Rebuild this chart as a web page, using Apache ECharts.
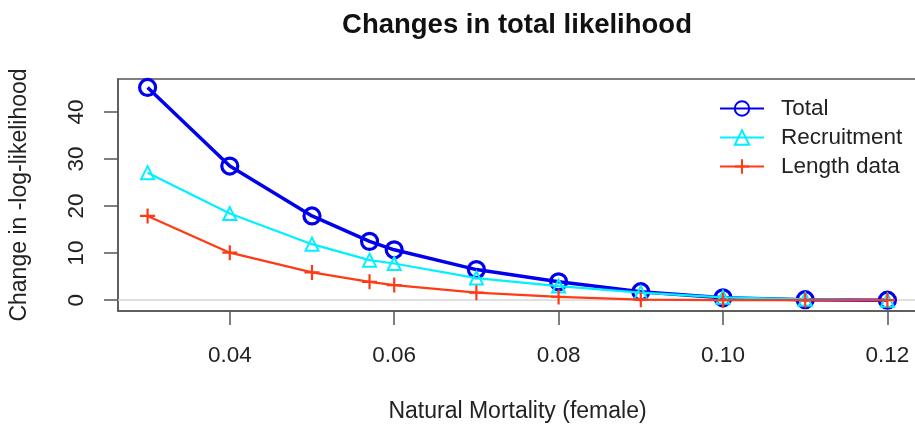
<!DOCTYPE html>
<html>
<head>
<meta charset="utf-8">
<script src="https://cdn.jsdelivr.net/npm/echarts@6/dist/echarts.min.js"></script>
<style>
  html, body { margin: 0; padding: 0; background: #fff; }
  #chart { width: 915px; height: 428px; }
</style>
</head>
<body>
<div id="chart"></div>
<script>
// Natural mortality values (female) at which the model was profiled
const mortality = [0.03, 0.04, 0.05, 0.057, 0.06, 0.07, 0.08, 0.09, 0.10, 0.11, 0.12];

// Change in negative log-likelihood per component
const totalLike       = [45.2, 28.5, 17.9, 12.5, 10.7, 6.5, 3.9, 1.8, 0.5, 0.1, 0.0];
const recruitmentLike = [27.1, 18.4, 11.9, 8.5, 7.8, 4.7, 3.0, 1.6, 0.6, 0.2, 0.0];
const lengthLike      = [17.9, 10.1, 5.9, 3.9, 3.2, 1.6, 0.7, 0.1, 0.0, 0.0, 0.0];

// Tick labels
const xTicks = [0.04, 0.06, 0.08, 0.10, 0.12];
const yTicks = [0, 10, 20, 30, 40];

const FONT = '"Liberation Sans", Arial, Helvetica, sans-serif';
const AXIS_COLOR = '#555';
const pairs = ys => mortality.map((m, i) => [m, ys[i]]);

const chart = echarts.init(document.getElementById('chart'), null, { renderer: 'canvas' });

chart.setOption({
  animation: false,
  backgroundColor: '#ffffff',
  textStyle: { fontFamily: FONT },
  title: {
    text: 'Changes in total likelihood',
    left: 512, top: 6, textAlign: 'center',
    textStyle: { fontFamily: FONT, fontSize: 27.5, fontWeight: 'bold', color: '#111' }
  },
  grid: {
    left: 118, top: 79, width: 799, height: 232,
    outerBoundsMode: 'none', containLabel: false,
    show: true, borderColor: AXIS_COLOR, borderWidth: 1.5, backgroundColor: 'transparent'
  },
  legend: {
    left: 714, top: 92, orient: 'vertical', itemGap: 6,
    itemWidth: 44, itemHeight: 18,
    textStyle: { fontFamily: FONT, fontSize: 22.5, color: '#222', padding: [0, 0, 0, 12] },
    data: ['Total', 'Recruitment', 'Length data']
  },
  xAxis: {
    type: 'value', min: 0.0264, max: 0.1236,
    name: 'Natural Mortality (female)', nameLocation: 'middle', nameGap: 89,
    nameTextStyle: { fontFamily: FONT, fontSize: 23, color: '#222' },
    axisLine: { show: true, onZero: false, lineStyle: { color: AXIS_COLOR, width: 1.5 } },
    axisTick: { show: true, length: 14, inside: false, customValues: xTicks, lineStyle: { color: AXIS_COLOR, width: 1.5 } },
    axisLabel: {
      customValues: xTicks, margin: 33, fontSize: 22.5, color: '#222', fontFamily: FONT,
      formatter: v => v.toFixed(2)
    },
    splitLine: { show: false }
  },
  yAxis: {
    type: 'value', min: -2.3, max: 47,
    name: 'Change in -log-likelihood', nameLocation: 'middle', nameGap: 87, nameRotate: 90,
    nameTextStyle: { fontFamily: FONT, fontSize: 23, color: '#222' },
    axisLine: { show: true, onZero: false, lineStyle: { color: AXIS_COLOR, width: 1.5 } },
    axisTick: { show: true, length: 14, inside: false, customValues: yTicks, lineStyle: { color: AXIS_COLOR, width: 1.5 } },
    axisLabel: {
      customValues: yTicks, margin: 30, rotate: 90, fontSize: 22.5, color: '#222', fontFamily: FONT
    },
    splitLine: { show: false }
  },
  series: [
    {
      name: 'Total', type: 'line', data: pairs(totalLike), z: 3,
      symbol: 'circle', symbolSize: 16, showAllSymbol: true,
      lineStyle: { color: '#0000ee', width: 3.5 },
      itemStyle: { color: 'rgba(0,0,0,0)', borderColor: '#0000ee', borderWidth: 3.2 },
      markLine: {
        silent: true, symbol: ['none', 'none'], label: { show: false },
        lineStyle: { color: '#d6d6d6', width: 1.5, type: 'solid' },
        data: [{ yAxis: 0 }], z: 1
      }
    },
    {
      name: 'Recruitment', type: 'line', data: pairs(recruitmentLike), z: 4,
      symbol: 'triangle', symbolSize: 13, showAllSymbol: true,
      lineStyle: { color: '#00f0ff', width: 2.2 },
      itemStyle: { color: 'rgba(0,0,0,0)', borderColor: '#00f0ff', borderWidth: 2 }
    },
    {
      name: 'Length data', type: 'line', data: pairs(lengthLike), z: 5,
      symbol: 'path://M0,7L14,7M7,0L7,14', symbolSize: 15, showAllSymbol: true,
      lineStyle: { color: '#ff3a14', width: 2.2 },
      itemStyle: { color: 'rgba(0,0,0,0)', borderColor: '#ff3a14', borderWidth: 2.2 }
    }
  ]
});
</script>
</body>
</html>
